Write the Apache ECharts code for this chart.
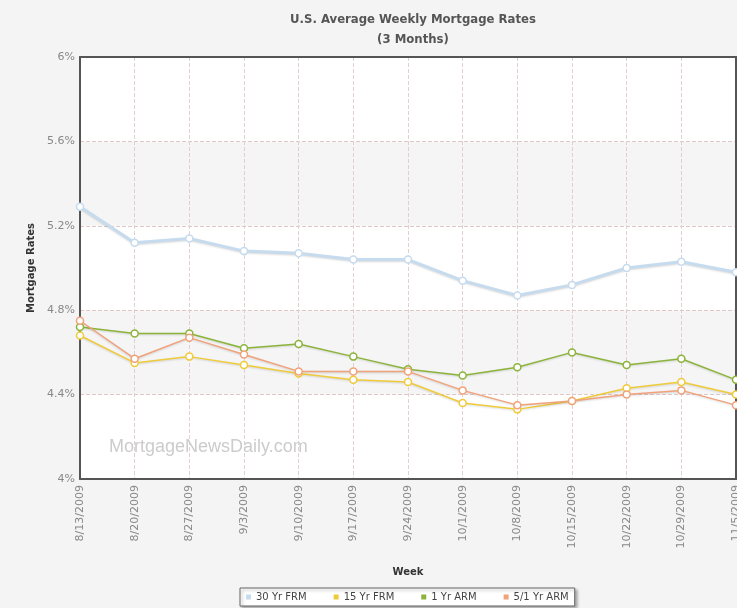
<!DOCTYPE html>
<html><head><meta charset="utf-8">
<script src="https://cdn.jsdelivr.net/npm/echarts@6/dist/echarts.min.js"></script>
<style>html,body{margin:0;padding:0;background:#f4f4f4;}#c{width:737px;height:608px;}</style>
</head><body><div id="c"></div>
<script>
const weeks = ['8/13/2009','8/20/2009','8/27/2009','9/3/2009','9/10/2009','9/17/2009','9/24/2009','10/1/2009','10/8/2009','10/15/2009','10/22/2009','10/29/2009','11/5/2009'];
const frm30 = [5.29,5.12,5.14,5.08,5.07,5.04,5.04,4.94,4.87,4.92,5.00,5.03,4.98];
const frm15 = [4.68,4.55,4.58,4.54,4.50,4.47,4.46,4.36,4.33,4.37,4.43,4.46,4.40];
const arm1 = [4.72,4.69,4.69,4.62,4.64,4.58,4.52,4.49,4.53,4.60,4.54,4.57,4.47];
const arm51 = [4.75,4.57,4.67,4.59,4.51,4.51,4.51,4.42,4.35,4.37,4.40,4.42,4.35];
const yTicks = [4,4.4,4.8,5.2,5.6,6];
const names = ['30 Yr FRM','15 Yr FRM','1 Yr ARM','5/1 Yr ARM'];
const colors = ['#c6dbee','#efcb3c','#8cb43a','#f0a27a'];

const chart = echarts.init(document.getElementById('c'));
function mk(name, data, color, width) {
  return {
    name, type:'line', data, symbol:'circle', symbolSize:7, z:20,
    lineStyle:{color, width, shadowColor:'rgba(0,0,0,0.15)', shadowBlur:2, shadowOffsetY:1},
    itemStyle:{color:'#fff', borderColor:color, borderWidth:1.5},
    emphasis:{disabled:true}
  };
}
const frame = {show:true, lineStyle:{color:'#555', width:2}};
chart.setOption({
  backgroundColor:'#f4f4f4',
  animation:false,
  textStyle:{fontFamily:'DejaVu Sans'},
  title:{
    text:'U.S. Average Weekly Mortgage Rates\n(3 Months)',
    left:408, top:5, textAlign:'center',
    textStyle:{fontFamily:'DejaVu Sans Condensed', fontSize:13, fontWeight:'bold', color:'#555', lineHeight:20}
  },
  legend:{
    bottom:2, left:240, itemWidth:5, itemHeight:5, itemGap:27, icon:'rect',
    backgroundColor:'#fff', borderColor:'#666', borderWidth:1, padding:[4,6],
    shadowColor:'rgba(0,0,0,0.3)', shadowBlur:3, shadowOffsetX:2, shadowOffsetY:2,
    textStyle:{fontSize:10, color:'#444'},
    data:names.map((n,i)=>({name:n, itemStyle:{color:colors[i], borderWidth:0}}))
  },
  grid:{left:80, right:1, top:57, bottom:129, show:true, backgroundColor:'#fff', borderWidth:0, outerBoundsMode:'none', containLabel:false},
  graphic:[{type:'text', left:109, top:438, z:100, silent:true, style:{text:'MortgageNewsDaily.com', fontSize:18, fill:'#cccccc', fontFamily:'Liberation Sans'}}],
  xAxis:[{
    type:'category', data:weeks, boundaryGap:false,
    name:'Week', nameLocation:'middle', nameGap:88,
    nameTextStyle:{fontSize:10, fontWeight:'bold', color:'#333'},
    axisLine:frame, axisTick:{show:false},
    axisLabel:{rotate:90, fontSize:11, color:'#888', margin:6, showMaxLabel:true},
    splitLine:{show:true, lineStyle:{type:'dashed', color:'#e0d0d0'}}
  },{
    type:'category', data:weeks, boundaryGap:false, position:'top',
    axisLine:frame, axisTick:{show:false}, axisLabel:{show:false}, splitLine:{show:false}
  }],
  yAxis:[{
    type:'value', min:4, max:6, interval:0.4,
    name:'Mortgage Rates', nameLocation:'middle', nameGap:40, nameRotate:90,
    nameTextStyle:{fontSize:10, fontWeight:'bold', color:'#333'},
    axisLine:frame, axisTick:{show:false},
    axisLabel:{fontSize:11, color:'#888', margin:5, formatter:v=>{const t=yTicks.find(x=>Math.abs(x-v)<1e-6); return (t!==undefined?(+t.toFixed(1)):v)+'%';}},
    splitLine:{show:true, lineStyle:{type:'dashed', color:'#e0c8c8'}},
    splitArea:{show:true, areaStyle:{color:['#ffffff','#f5f5f5']}}
  },{
    type:'value', min:4, max:6, interval:0.4, position:'right',
    axisLine:frame, axisTick:{show:false}, axisLabel:{show:false}, splitLine:{show:false}
  }],
  series:[
    mk(names[0], frm30, colors[0], 3),
    mk(names[1], frm15, colors[1], 1.5),
    mk(names[2], arm1, colors[2], 1.5),
    mk(names[3], arm51, colors[3], 1.5)
  ]
});
</script></body></html>
